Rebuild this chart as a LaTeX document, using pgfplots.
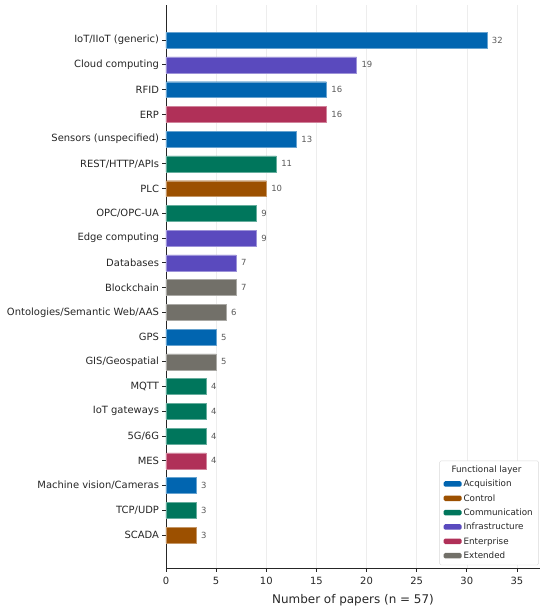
\documentclass[border=0pt]{standalone}
\usepackage{pgfplots}
\pgfplotsset{compat=1.18}
\usepackage{fontspec}
\setmainfont{DejaVu Sans}
\definecolor{cacq}{HTML}{0165B0}
\definecolor{cctl}{HTML}{9C5000}
\definecolor{ccom}{HTML}{00765C}
\definecolor{cinf}{HTML}{5A4ABE}
\definecolor{cent}{HTML}{B03058}
\definecolor{cext}{HTML}{727069}
\definecolor{txt}{HTML}{262626}
\begin{document}
\begin{tikzpicture}
\path[use as bounding box] (-166bp,-41bp) rectangle (384bp,568bp);
\begin{axis}[
  at={(0,0)}, anchor=south west,
  scale only axis, width=374bp, height=563bp,
  xbar, bar width=0.64, 
  y dir=reverse,
  ymin=-1.42, ymax=21.33,
  xmin=0, xmax=37.3,
  axis x line*=bottom, axis y line*=left,
  axis line style={line width=0.8pt, color=txt},
  xtick={0,5,...,35},
  ytick={0,...,20},
  yticklabels={IoT/IIoT (generic),Cloud computing,RFID,ERP,Sensors (unspecified),REST/HTTP/APIs,PLC,OPC/OPC-UA,Edge computing,Databases,Blockchain,Ontologies/Semantic Web/AAS,GPS,GIS/Geospatial,MQTT,IoT gateways,5G/6G,MES,Machine vision/Cameras,TCP/UDP,SCADA},
  tick style={color=txt, line width=0.8pt},
  tick align=outside, major tick length=3.5bp,
  xmajorgrids, grid style={color=black!7, line width=0.5pt},
  ymajorgrids=false,
  tick label style={font=\fontsize{10}{12}\selectfont, color=txt},
  xticklabel style={yshift=-2.5bp},
  /pgf/number format/assume math mode=true,
  xlabel={Number of papers (n = 57)},
  xlabel style={font=\fontsize{12}{14}\selectfont, color=txt, yshift=-3bp},
  nodes near coords,
  nodes near coords style={font=\fontsize{8.5}{10}\selectfont, color=black!65, xshift=1.5bp},
  every node near coord/.append style={anchor=west},
  legend style={at={(0.997,0.005)}, anchor=south east, font=\fontsize{8.8}{10.5}\selectfont, draw=black!15, rounded corners=1.5pt, text=txt, row sep=2.2bp, inner xsep=4bp, inner ysep=3bp},
  legend cell align=left,
  area legend,
  legend image code/.code={\draw[#1, draw=none] (0bp,-2.5bp) rectangle (18bp,3bp);},
]
\addlegendimage{empty legend}
\addlegendentry{\hspace*{-12bp}Functional layer}
\addplot[bar shift=0pt, fill=cacq, draw=cacq!60!white, line width=0.4pt] coordinates {(32,0) (16,2) (13,4) (5,12) (3,18)};
\addlegendentry{Acquisition}
\addplot[bar shift=0pt, fill=cctl, draw=cctl!60!white, line width=0.4pt] coordinates {(10,6) (3,20)};
\addlegendentry{Control}
\addplot[bar shift=0pt, fill=ccom, draw=ccom!60!white, line width=0.4pt] coordinates {(11,5) (9,7) (4,14) (4,15) (4,16) (3,19)};
\addlegendentry{Communication}
\addplot[bar shift=0pt, fill=cinf, draw=cinf!60!white, line width=0.4pt] coordinates {(19,1) (9,8) (7,9)};
\addlegendentry{Infrastructure}
\addplot[bar shift=0pt, fill=cent, draw=cent!60!white, line width=0.4pt] coordinates {(16,3) (4,17)};
\addlegendentry{Enterprise}
\addplot[bar shift=0pt, fill=cext, draw=cext!60!white, line width=0.4pt] coordinates {(7,10) (6,11) (5,13)};
\addlegendentry{Extended}
\end{axis}
\end{tikzpicture}
\end{document}
